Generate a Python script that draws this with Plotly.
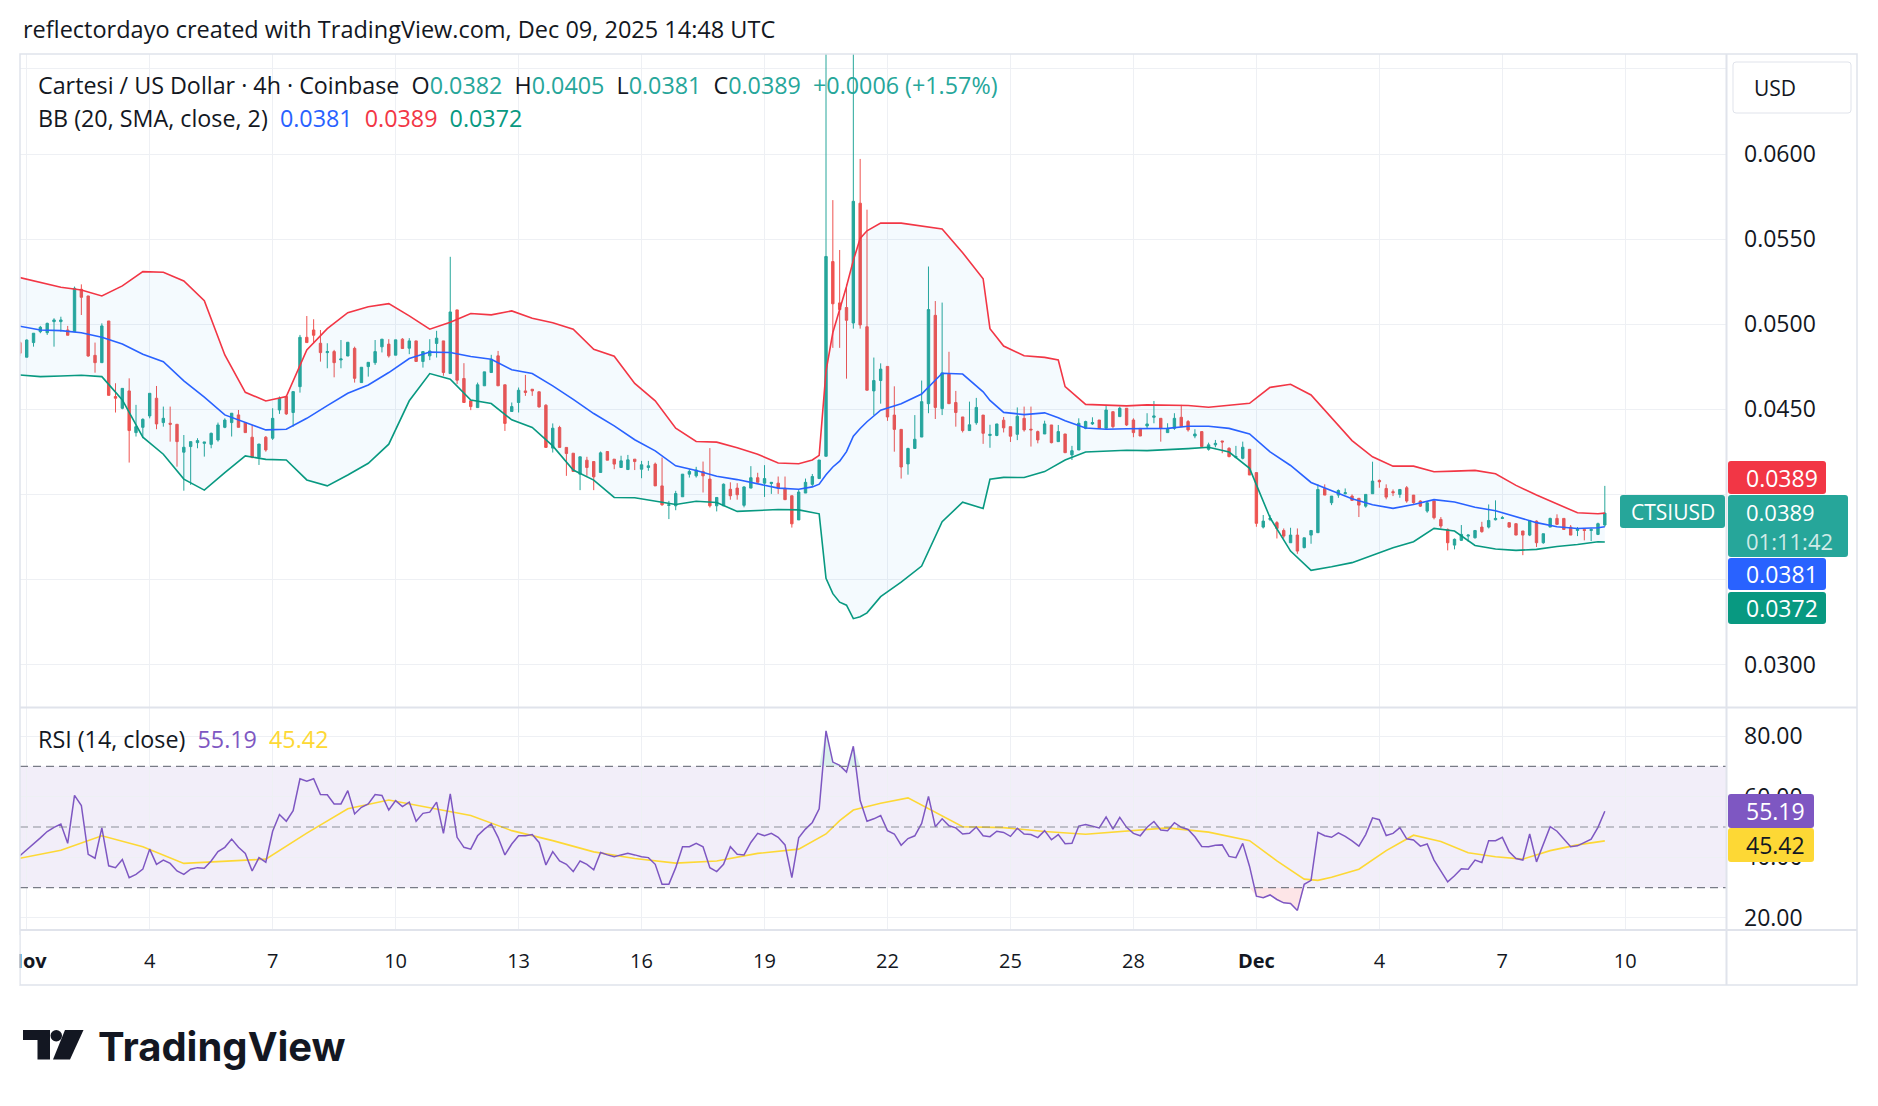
import plotly.graph_objects as go
import pandas as pd

W, H = 1878, 1106

# ---------------- data (4h candles, CTSI/USD, Coinbase) ----------------
start_time = "2025-10-31 20:00"

opens = [
    .04892, .04806, .04892, .04956, .04950, .05015, .05015, .04966, .04956, .05205,
    .05166, .04817, .04774, .05019, .04575, .04506, .04608, .04363, .04394, .04461,
    .04565, .04422, .04418, .04412, .04248, .04281, .04304, .04300, .04294, .04320,
    .04394, .04422, .04467, .04422, .04336, .04218, .04336, .04330, .04496, .04575,
    .04481, .04633, .04923, .04966, .04888, .04833, .04839, .04790, .04813, .04858,
    .04657, .04751, .04774, .04867, .04883, .04818, .04912, .04859, .04902, .04781,
    .04814, .04887, .04902, .04710, .05084, .04681, .04550, .04510, .04638, .04716,
    .04814, .04644, .04487, .04540, .04608, .04618, .04603, .04524, .04272, .04393,
    .04276, .04242, .04119, .04201, .04193, .04129, .04252, .04207, .04158, .04146,
    .04207, .04148, .04158, .04178, .04050, .03935, .03933, .03986, .04119, .04109,
    .04135, .04090, .03933, .03933, .04030, .04037, .03936, .04037, .04098, .04066,
    .04064, .04066, .04037, .03992, .03850, .04008, .04059, .04093, .04224, .05368,
    .05125, .05098, .05007, .05711, .04985, .04608, .04669, .04752, .04466, .04382,
    .04179, .04270, .04337, .04533, .05052, .04504, .04707, .04540, .04455, .04375,
    .04421, .04466, .04346, .04346, .04436, .04398, .04353, .04447, .04383, .04369,
    .04355, .04408, .04310, .04355, .04232, .04261, .04388, .04414, .04437, .04388,
    .04486, .04457, .04506, .04437, .04388, .04402, .04453, .04447, .04363, .04388,
    .04453, .04428, .04343, .04369, .04265, .04291, .04314, .04271, .04218, .04212,
    .04265, .04128, .03808, .03853, .03834, .03788, .03716, .03761, .03687, .03761,
    .03775, .04035, .03951, .03996, .04004, .03990, .03977, .03931, .04004, .04082,
    .04035, .04016, .04000, .04039, .03996, .03961, .03902, .03961, .03853, .03794,
    .03702, .03730, .03755, .03745, .03808, .03808, .03851, .03859, .03834, .03828,
    .03785, .03761, .03843, .03716, .03808, .03859, .03859, .03808, .03788, .03794,
    .03788, .03765, .03820,
]
highs = [
    .04900, .04910, .04947, .04990, .05009, .05035, .05044, .04990, .05221, .05234,
    .05166, .04892, .05005, .05019, .04653, .04623, .04682, .04526, .04447, .04594,
    .04637, .04516, .04516, .04412, .04349, .04310, .04330, .04308, .04363, .04422,
    .04447, .04477, .04496, .04422, .04408, .04296, .04343, .04506, .04575, .04584,
    .04604, .04937, .05048, .05029, .04966, .04888, .04849, .04907, .04894, .04868,
    .04747, .04776, .04907, .04912, .04912, .04908, .04918, .04918, .04902, .04839,
    .04912, .04961, .04902, .05396, .05084, .04771, .04550, .04657, .04720, .04820,
    .04843, .04644, .04540, .04628, .04702, .04618, .04603, .04530, .04417, .04403,
    .04276, .04242, .04221, .04221, .04193, .04252, .04252, .04207, .04227, .04232,
    .04207, .04197, .04197, .04187, .04217, .03962, .04021, .04119, .04148, .04162,
    .04193, .04272, .03982, .04064, .04071, .04066, .04048, .04166, .04127, .04172,
    .04071, .04105, .04105, .03992, .04030, .04093, .04120, .04202, .06800, .05729,
    .05436, .05233, .06800, .05971, .05673, .04804, .04770, .04752, .04635, .04382,
    .04274, .04466, .04669, .05339, .05136, .05127, .04838, .04608, .04455, .04545,
    .04567, .04466, .04409, .04414, .04455, .04398, .04511, .04516, .04516, .04375,
    .04433, .04408, .04408, .04355, .04285, .04447, .04433, .04453, .04437, .04526,
    .04486, .04516, .04506, .04447, .04388, .04477, .04549, .04447, .04418, .04477,
    .04526, .04437, .04383, .04369, .04304, .04320, .04314, .04277, .04285, .04310,
    .04265, .04128, .03879, .03879, .03843, .03800, .03804, .03800, .03745, .03788,
    .04059, .04059, .03990, .04029, .04035, .04000, .03977, .04000, .04192, .04088,
    .04059, .04029, .04029, .04049, .03996, .03965, .03961, .03965, .03867, .03800,
    .03741, .03820, .03765, .03788, .03839, .03941, .03965, .03873, .03834, .03828,
    .03785, .03847, .03847, .03769, .03863, .03883, .03859, .03820, .03808, .03794,
    .03800, .03834, .04050,
]
lows = [
    .04813, .04806, .04868, .04947, .04937, .04868, .04956, .04935, .04956, .05054,
    .04809, .04715, .04774, .04580, .04481, .04500, .04187, .04340, .04330, .04447,
    .04383, .04398, .04310, .04163, .04022, .04056, .04271, .04222, .04271, .04310,
    .04389, .04340, .04394, .04363, .04212, .04173, .04251, .04320, .04473, .04467,
    .04398, .04598, .04892, .04888, .04780, .04741, .04688, .04741, .04813, .04657,
    .04657, .04692, .04761, .04834, .04804, .04818, .04857, .04824, .04781, .04745,
    .04789, .04804, .04697, .04710, .04648, .04540, .04495, .04510, .04638, .04716,
    .04638, .04373, .04487, .04481, .04579, .04579, .04510, .04276, .04246, .04276,
    .04109, .04135, .04025, .04109, .04025, .04129, .04201, .04148, .04158, .04146,
    .04143, .04095, .04139, .04050, .03933, .03855, .03907, .03986, .04099, .04099,
    .04011, .03923, .03900, .03933, .03969, .03969, .03924, .04037, .04071, .03985,
    .04003, .04003, .03969, .03805, .03850, .04008, .04048, .04093, .04224, .04861,
    .04861, .04680, .04974, .04974, .04612, .04466, .04533, .04432, .04251, .04093,
    .04116, .04270, .04337, .04477, .04443, .04466, .04533, .04398, .04364, .04375,
    .04409, .04297, .04274, .04342, .04364, .04308, .04319, .04369, .04281, .04300,
    .04355, .04300, .04310, .04245, .04202, .04261, .04383, .04408, .04388, .04388,
    .04388, .04457, .04402, .04336, .04343, .04388, .04418, .04310, .04363, .04379,
    .04398, .04369, .04330, .04281, .04257, .04277, .04242, .04218, .04212, .04206,
    .04114, .03810, .03800, .03843, .03741, .03741, .03716, .03651, .03683, .03710,
    .03775, .03996, .03937, .03980, .04000, .03965, .03867, .03922, .04004, .04039,
    .03971, .03990, .03980, .03951, .03945, .03926, .03892, .03853, .03800, .03671,
    .03677, .03726, .03722, .03741, .03775, .03800, .03847, .03857, .03804, .03761,
    .03643, .03755, .03691, .03710, .03808, .03820, .03794, .03761, .03755, .03730,
    .03726, .03761, .03810,
]
closes = [
    .04829, .04907, .04947, .04982, .05005, .05025, .05025, .04935, .05211, .05158,
    .04813, .04774, .04990, .04582, .04565, .04623, .04375, .04398, .04441, .04594,
    .04414, .04447, .04412, .04310, .04277, .04310, .04316, .04308, .04359, .04408,
    .04437, .04477, .04394, .04363, .04218, .04296, .04261, .04447, .04565, .04473,
    .04604, .04923, .04892, .04935, .04833, .04839, .04774, .04796, .04894, .04682,
    .04747, .04776, .04839, .04912, .04814, .04908, .04857, .04902, .04781, .04839,
    .04843, .04918, .04716, .05072, .04671, .04540, .04516, .04644, .04720, .04794,
    .04638, .04417, .04516, .04612, .04599, .04608, .04514, .04276, .04389, .04276,
    .04240, .04135, .04221, .04158, .04103, .04244, .04201, .04178, .04197, .04203,
    .04193, .04174, .04168, .04050, .03939, .03939, .04005, .04119, .04135, .04143,
    .04109, .03933, .03982, .04060, .03992, .03998, .04044, .04098, .04071, .04093,
    .04071, .04037, .03969, .03827, .04014, .04071, .04105, .04202, .05398, .05120,
    .05086, .05023, .05722, .04996, .04612, .04669, .04736, .04455, .04382, .04161,
    .04270, .04324, .04545, .05086, .04511, .04714, .04533, .04481, .04375, .04409,
    .04511, .04359, .04353, .04414, .04391, .04342, .04459, .04379, .04379, .04320,
    .04414, .04304, .04369, .04245, .04257, .04418, .04428, .04422, .04388, .04496,
    .04398, .04506, .04408, .04363, .04343, .04414, .04461, .04388, .04388, .04447,
    .04398, .04379, .04355, .04281, .04291, .04300, .04308, .04222, .04222, .04277,
    .04114, .03830, .03843, .03859, .03800, .03755, .03761, .03667, .03745, .03788,
    .04029, .03996, .03990, .04023, .04010, .03965, .03937, .04000, .04078, .04074,
    .03984, .04010, .04029, .03961, .03951, .03931, .03951, .03863, .03814, .03716,
    .03736, .03765, .03761, .03788, .03781, .03847, .03859, .03863, .03808, .03761,
    .03761, .03847, .03716, .03769, .03859, .03824, .03794, .03761, .03794, .03788,
    .03794, .03828, .03890,
]

# Bollinger Bands (20, SMA, close, 2), read at these candle indices
bb_idx = [0, 3, 6, 9, 12, 15, 18, 21, 24, 27,
          30, 33, 36, 39, 42, 45, 48, 51, 54, 57,
          60, 63, 66, 69, 72, 75, 78, 81, 84, 87,
          90, 93, 96, 99, 102, 105, 108, 111, 114, 116,
          117, 118, 119, 120, 121, 122, 123, 124, 126, 129,
          132, 135, 138, 141, 142, 144, 147, 150, 152, 153,
          156, 159, 162, 165, 168, 171, 174, 177, 180, 183,
          186, 189, 192, 195, 198, 201, 204, 207, 210, 213,
          216, 219, 222, 225, 228, 231, 232]
bb_upper = [.05274, .05246, .05217, .05201, .05166, .05225, .05309, .05305, .05254, .05138,
            .04819, .04600, .04549, .04575, .04849, .04974, .05068, .05103, .05121, .05049,
            .04971, .05012, .05063, .05055, .05078, .05035, .05008, .04971, .04853, .04812,
            .04652, .04550, .04389, .04311, .04307, .04274, .04236, .04184, .04180, .04202,
            .04229, .04725, .04951, .05086, .05222, .05375, .05504, .05549, .05594, .05594,
            .05578, .05560, .05420, .05267, .04974, .04872, .04815, .04805, .04790, .04633,
            .04529, .04524, .04520, .04526, .04526, .04522, .04512, .04522, .04535, .04629,
            .04647, .04584, .04447, .04316, .04221, .04166, .04166, .04133, .04137, .04141,
            .04121, .04053, .03996, .03945, .03892, .03886, .03890]
bb_basis = [.04988, .04966, .04962, .04950, .04923, .04884, .04823, .04780, .04667, .04571,
            .04467, .04422, .04379, .04383, .04447, .04522, .04594, .04643, .04716, .04798,
            .04836, .04834, .04810, .04794, .04732, .04710, .04638, .04558, .04475, .04403,
            .04321, .04256, .04168, .04140, .04107, .04087, .04062, .04037, .04030, .04044,
            .04060, .04116, .04161, .04195, .04251, .04342, .04387, .04427, .04495, .04533,
            .04590, .04712, .04707, .04603, .04552, .04482, .04469, .04479, .04450, .04433,
            .04390, .04383, .04386, .04388, .04388, .04400, .04400, .04388, .04355, .04250,
            .04170, .04070, .04024, .03975, .03939, .03918, .03941, .03969, .03955, .03924,
            .03904, .03867, .03834, .03810, .03800, .03804, .03810]
bb_lower = [.04702, .04692, .04696, .04700, .04692, .04555, .04336, .04236, .04090, .04025,
            .04128, .04226, .04206, .04202, .04085, .04050, .04114, .04183, .04295, .04550,
            .04710, .04677, .04554, .04534, .04438, .04393, .04285, .04143, .04084, .03982,
            .03980, .03960, .03941, .03960, .03952, .03900, .03904, .03911, .03909, .03895,
            .03886, .03507, .03417, .03367, .03349, .03270, .03281, .03304, .03399, .03484,
            .03579, .03840, .03954, .03917, .04089, .04100, .04099, .04134, .04180, .04202,
            .04249, .04255, .04259, .04257, .04261, .04269, .04277, .04249, .04153, .03863,
            .03667, .03554, .03575, .03599, .03642, .03687, .03722, .03800, .03785, .03700,
            .03679, .03671, .03677, .03694, .03706, .03722, .03720]

# RSI (14, close) per candle
rsi = [
    40.5, 42.4, 44.4, 46.4, 48.5, 49.9, 51.0, 44.6, 60.4, 57.1,
    41.0, 39.7, 49.7, 37.2, 36.6, 39.3, 33.3, 34.4, 36.1, 42.7,
    37.7, 39.1, 38.0, 35.5, 34.4, 36.1, 36.6, 36.4, 38.8, 41.9,
    43.3, 46.0, 43.3, 41.3, 35.5, 39.9, 38.4, 48.6, 54.1, 51.9,
    55.4, 65.9, 65.1, 65.9, 60.7, 60.6, 57.6, 57.6, 62.0, 54.3,
    56.5, 57.6, 60.7, 60.4, 55.6, 58.7, 56.7, 58.2, 51.9, 54.5,
    54.9, 58.2, 47.9, 60.9, 46.6, 43.3, 42.7, 47.1, 49.3, 51.0,
    46.6, 40.8, 44.4, 47.1, 47.1, 47.5, 44.9, 37.5, 41.9, 38.8,
    37.7, 35.3, 38.8, 37.7, 35.9, 41.6, 40.8, 40.2, 40.8, 41.3,
    40.8, 40.2, 39.9, 37.7, 31.1, 31.1, 36.6, 43.5, 43.5, 44.6,
    43.5, 36.6, 35.3, 37.7, 43.5, 41.0, 40.8, 44.9, 47.9, 47.1,
    47.9, 46.6, 44.1, 33.3, 46.4, 49.3, 51.5, 56.0, 81.7, 71.4,
    70.3, 68.1, 76.6, 58.7, 51.9, 52.7, 53.8, 48.8, 47.7, 44.0,
    46.2, 47.1, 51.2, 60.1, 50.1, 52.7, 50.4, 49.7, 47.7, 47.9,
    50.0, 47.1, 46.8, 48.6, 48.2, 46.9, 49.6, 47.7, 47.5, 46.5,
    48.8, 45.8, 47.5, 44.5, 44.6, 50.3, 50.8, 50.3, 49.7, 53.3,
    49.3, 53.2, 49.9, 47.9, 47.1, 49.9, 51.8, 49.0, 48.8, 51.4,
    49.9, 49.2, 46.8, 43.6, 43.5, 44.0, 44.1, 40.3, 39.9, 44.6,
    37.0, 27.2, 26.7, 27.6, 26.1, 25.0, 24.8, 22.5, 31.1, 32.4,
    48.2, 47.1, 46.6, 48.1, 46.9, 45.4, 43.7, 47.5, 53.0, 52.4,
    47.2, 47.9, 49.8, 46.1, 45.7, 43.7, 44.4, 39.1, 35.5, 31.9,
    33.9, 36.2, 36.1, 39.1, 38.3, 45.5, 45.5, 46.6, 41.8, 39.6,
    39.1, 47.7, 38.5, 44.1, 50.1, 48.6, 46.0, 43.5, 43.8, 44.8,
    46.0, 49.9, 55.19,
]
# RSI-based MA, read at these candle indices
ma_idx = [0, 6, 12, 18, 24, 30, 36, 42, 48, 54,
          60, 66, 72, 78, 84, 90, 96, 102, 108, 114,
          118, 120, 122, 126, 130, 134, 138, 144, 150, 156,
          162, 168, 174, 180, 184, 186, 188, 190, 192, 196,
          200, 204, 208, 212, 216, 220, 224, 228, 232]
rsi_ma = [39.7, 42.3, 47.1, 43.5, 38.0, 38.6, 39.4, 48.0, 56.0, 58.9,
          56.3, 53.8, 48.8, 45.5, 41.8, 39.6, 38.1, 38.8, 41.3, 42.7,
          47.7, 52.1, 55.6, 57.8, 59.6, 54.9, 50.1, 49.8, 48.5, 47.6,
          48.6, 49.7, 48.3, 45.5, 38.8, 35.7, 32.8, 32.4, 33.4, 36.1,
          42.2, 47.3, 45.2, 41.5, 40.2, 39.4, 42.2, 44.1, 45.42]

tick_dates = ["2025-11-01", "2025-11-04", "2025-11-07", "2025-11-10", "2025-11-13",
              "2025-11-16", "2025-11-19", "2025-11-22", "2025-11-25", "2025-11-28",
              "2025-12-01", "2025-12-04", "2025-12-07", "2025-12-10"]
tick_text = ["<b>Nov</b>", "4", "7", "10", "13", "16", "19", "22", "25", "28",
             "<b>Dec</b>", "4", "7", "10"]
price_ticks = [0.030, 0.035, 0.040, 0.045, 0.050, 0.055, 0.060, 0.065]
# labels hidden behind the price tags / currency box in the original are left blank
price_text = ["0.0300", "", "", "0.0450", "0.0500", "0.0550", "0.0600", ""]
rsi_ticks = [20, 40, 60, 80]
rsi_text = ["20.00", "40.00", "60.00", "80.00"]

# ---------------- geometry helpers ----------------
def px(x):
    return x / W


def py(y):
    return 1 - y / H


times = pd.date_range(start_time, periods=len(closes), freq="4h")
bbx = [times[i] for i in bb_idx]
max_ = [times[i] for i in ma_idx]

# x scale: Nov 1 00:00 sits at pixel 26.7, 40.99 px per day
t_ref = pd.Timestamp("2025-11-01")
x_left = t_ref + pd.Timedelta(days=(20 - 26.7) / 40.99)
x_right = t_ref + pd.Timedelta(days=(1726 - 26.7) / 40.99)
# price scale: 0.0600 at y=154, 85.1 px per 0.005
p_hi = 0.06 + (154 - 54) * 0.005 / 85.1
p_lo = 0.06 - (707 - 154) * 0.005 / 85.1

GREEN = "#26a69a"
RED = "#ef5350"
FONT = "Open Sans"
TXT = "#131722"

fig = go.Figure()

# BB fill (drawn first)
fig.add_trace(go.Scatter(x=bbx, y=bb_lower, mode="lines", line=dict(width=0),
                         xaxis="x", yaxis="y", hoverinfo="skip", showlegend=False))
fig.add_trace(go.Scatter(x=bbx, y=bb_upper, mode="lines", line=dict(width=0),
                         fill="tonexty", fillcolor="rgba(33,150,243,0.05)",
                         xaxis="x", yaxis="y", hoverinfo="skip", showlegend=False))

fig.add_trace(go.Candlestick(
    x=times, open=opens, high=highs, low=lows, close=closes,
    increasing=dict(line=dict(color=GREEN, width=1), fillcolor=GREEN),
    decreasing=dict(line=dict(color=RED, width=1), fillcolor=RED),
    whiskerwidth=0, xaxis="x", yaxis="y", hoverinfo="skip", showlegend=False))

for arr, col in ((bb_upper, "#F23645"), (bb_basis, "#2962FF"), (bb_lower, "#089981")):
    fig.add_trace(go.Scatter(x=bbx, y=arr, mode="lines", line=dict(color=col, width=1.6),
                             xaxis="x", yaxis="y", hoverinfo="skip", showlegend=False))

# RSI overbought / oversold fills
ob = list(range(116, 125))
fig.add_trace(go.Scatter(x=[times[i] for i in ob], y=[70] * len(ob), mode="lines",
                         line=dict(width=0), xaxis="x2", yaxis="y2", hoverinfo="skip", showlegend=False))
fig.add_trace(go.Scatter(x=[times[i] for i in ob], y=[max(rsi[i], 70) for i in ob], mode="lines",
                         line=dict(width=0), fill="tonexty", fillcolor="rgba(8,153,129,0.15)",
                         xaxis="x2", yaxis="y2", hoverinfo="skip", showlegend=False))
os_ = list(range(179, 191))
fig.add_trace(go.Scatter(x=[times[i] for i in os_], y=[30] * len(os_), mode="lines",
                         line=dict(width=0), xaxis="x2", yaxis="y2", hoverinfo="skip", showlegend=False))
fig.add_trace(go.Scatter(x=[times[i] for i in os_], y=[min(rsi[i], 30) for i in os_], mode="lines",
                         line=dict(width=0), fill="tonexty", fillcolor="rgba(242,54,69,0.13)",
                         xaxis="x2", yaxis="y2", hoverinfo="skip", showlegend=False))

fig.add_trace(go.Scatter(x=max_, y=rsi_ma, mode="lines", line=dict(color="#FDD835", width=1.6),
                         xaxis="x2", yaxis="y2", hoverinfo="skip", showlegend=False))
fig.add_trace(go.Scatter(x=times, y=rsi, mode="lines", line=dict(color="#7E57C2", width=1.5),
                         xaxis="x2", yaxis="y2", hoverinfo="skip", showlegend=False))

# ---------------- shapes ----------------
def rrect(x0, y0, x1, y1, r):
    def P(x, y):
        return f"{px(x):.6f},{py(y):.6f}"
    return (f"M{P(x0 + r, y0)} L{P(x1 - r, y0)} Q{P(x1, y0)} {P(x1, y0 + r)} "
            f"L{P(x1, y1 - r)} Q{P(x1, y1)} {P(x1 - r, y1)} L{P(x0 + r, y1)} "
            f"Q{P(x0, y1)} {P(x0, y1 - r)} L{P(x0, y0 + r)} Q{P(x0, y0)} {P(x0 + r, y0)} Z")


def poly(pts):
    s = "M" + " L".join(f"{px(x):.6f},{py(y):.6f}" for x, y in pts)
    return s + " Z"


shapes = []
shapes.append(dict(type="rect", xref="paper", yref="y2", x0=px(20), x1=px(1726), y0=30, y1=70,
                   fillcolor="rgba(126,87,194,0.1)", line=dict(width=0), layer="below"))
for lvl, col in ((70, "#787b86"), (50, "rgba(120,123,134,0.55)"), (30, "#787b86")):
    shapes.append(dict(type="line", xref="paper", yref="y2", x0=px(20), x1=px(1726), y0=lvl, y1=lvl,
                       line=dict(color=col, width=1.3, dash="8px,5px"), layer="above"))
BORDER = "#e0e3eb"
shapes.append(dict(type="rect", xref="paper", yref="paper", x0=px(20), x1=px(1857), y0=py(985), y1=py(54),
                   line=dict(color=BORDER, width=1.5), fillcolor="rgba(0,0,0,0)", layer="above"))
shapes.append(dict(type="line", xref="paper", yref="paper", x0=px(1726.5), x1=px(1726.5), y0=py(985), y1=py(54),
                   line=dict(color=BORDER, width=2), layer="above"))
for yy in (707.5, 930):
    shapes.append(dict(type="line", xref="paper", yref="paper", x0=px(20), x1=px(1857), y0=py(yy), y1=py(yy),
                       line=dict(color=BORDER, width=2), layer="above"))
shapes.append(dict(type="rect", xref="paper", yref="paper", x0=0, x1=px(19.3), y0=py(985), y1=py(935),
                   fillcolor="white", line=dict(width=0), layer="above"))

boxes = [
    ((1733, 62, 1851, 113), "white", BORDER),
    ((1728, 461, 1826, 494), "#F23645", None),
    ((1728, 495, 1848, 557), GREEN, None),
    ((1620, 495, 1725, 528), GREEN, None),
    ((1728, 558, 1826, 590), "#2962FF", None),
    ((1728, 592, 1826, 624), "#089981", None),
    ((1728, 794, 1814, 828), "#7E57C2", None),
    ((1728, 828, 1814, 862), "#FDD835", None),
]
for (x0, y0, x1, y1), fc, lc in boxes:
    shapes.append(dict(type="path", xref="paper", yref="paper", path=rrect(x0, y0, x1, y1, 3),
                       fillcolor=fc, line=dict(color=lc if lc else fc, width=1 if lc else 0),
                       layer="above"))

LOGO = "#131722"
shapes.append(dict(type="path", xref="paper", yref="paper",
                   path=poly([(23, 1030), (50, 1030), (50, 1059.5), (37.5, 1059.5), (37.5, 1040), (23, 1040)]),
                   fillcolor=LOGO, line=dict(width=0), layer="above"))
shapes.append(dict(type="circle", xref="paper", yref="paper", x0=px(50.5), x1=px(62), y0=py(1041.5), y1=py(1030),
                   fillcolor=LOGO, line=dict(width=0), layer="above"))
shapes.append(dict(type="path", xref="paper", yref="paper",
                   path=poly([(65, 1030), (83.5, 1030), (70, 1059.5), (53, 1059.5)]),
                   fillcolor=LOGO, line=dict(width=0), layer="above"))

# ---------------- annotations ----------------
def ann(x, y, s, size=23, color=TXT, xanchor="left", family=FONT, weight=None, align="left"):
    f = dict(family=family, size=size, color=color)
    if weight:
        f["weight"] = weight
    return dict(x=px(x), y=py(y), xref="paper", yref="paper", text=s, showarrow=False,
                xanchor=xanchor, yanchor="middle", align=align, font=f)


def c(s, col):
    return f"<span style='color:{col}'>{s}</span>"


sp = "&nbsp;&nbsp;"
VAL = "#26a69a"
annotations = [
    ann(21, 29, "reflectordayo created with TradingView.com, Dec 09, 2025 14:48 UTC", size=23.5),
    ann(36, 85, "Cartesi / US Dollar · 4h · Coinbase" + sp + "O" + c("0.0382", VAL) + sp + "H" + c("0.0405", VAL)
        + sp + "L" + c("0.0381", VAL) + sp + "C" + c("0.0389", VAL) + sp + c("+0.0006 (+1.57%)", VAL),
        size=23.3),
    ann(36, 118.5, "BB (20, SMA, close, 2)" + sp + c("0.0381", "#2962FF") + sp + c("0.0389", "#F23645")
        + sp + c("0.0372", "#089981"), size=23.3),
    ann(36, 739, "RSI (14, close)" + sp + c("55.19", "#7E57C2") + sp + c("45.42", "#FDD835"), size=23.3),
    ann(1752, 88, "USD", size=21),
    ann(1744, 477.5, "0.0389", color="white"),
    ann(1744, 526, "0.0389<br>" + c("01:11:42", "rgba(255,255,255,0.78)"), size=22, color="white"),
    ann(1672.5, 511.5, "CTSIUSD", size=21, color="white", xanchor="center", align="center"),
    ann(1744, 574, "0.0381", color="white"),
    ann(1744, 608, "0.0372", color="white"),
    ann(1744, 811, "55.19", color="white"),
    ann(1744, 845, "45.42", color=TXT),
    ann(96, 1046, "TradingView", size=40, color=LOGO, family="Inter", weight=700),
]

axfont = dict(family=FONT, size=23, color=TXT)
GRID = "#eef0f4"

fig.update_layout(
    width=W, height=H, autosize=False,
    margin=dict(l=0, r=0, t=0, b=0, pad=0, autoexpand=False),
    paper_bgcolor="white", plot_bgcolor="white",
    showlegend=False, hovermode=False, boxgap=0.5,
    xaxis=dict(domain=[px(20), px(1726)], anchor="y", type="date", range=[x_left, x_right],
               tickvals=tick_dates, showticklabels=False, showgrid=True, gridcolor=GRID, gridwidth=1,
               zeroline=False, showline=False, ticks="", rangeslider=dict(visible=False),
               fixedrange=True, automargin=False),
    xaxis2=dict(domain=[px(20), px(1726)], anchor="y2", type="date", range=[x_left, x_right], matches="x",
                tickvals=tick_dates, ticktext=tick_text, showgrid=True, gridcolor=GRID, gridwidth=1,
                zeroline=False, showline=False, ticks="", ticklabelstandoff=17,
                tickfont=dict(family=FONT, size=20, color=TXT), fixedrange=True, automargin=False),
    yaxis=dict(domain=[py(707), py(54)], anchor="x", side="right", range=[p_lo, p_hi],
               tickvals=price_ticks, ticktext=price_text, showgrid=True, gridcolor=GRID, gridwidth=1,
               zeroline=False, showline=False, ticks="", ticklabelstandoff=17, tickfont=axfont,
               fixedrange=True, automargin=False),
    yaxis2=dict(domain=[py(930), py(708)], anchor="x2", side="right", range=[16.04, 89.23],
                tickvals=rsi_ticks, ticktext=rsi_text, showgrid=True,
                gridcolor=GRID, gridwidth=1, zeroline=False, showline=False, ticks="",
                ticklabelstandoff=17, tickfont=axfont, fixedrange=True, automargin=False),
    shapes=shapes,
    annotations=annotations,
)

fig.write_html("out.html")
